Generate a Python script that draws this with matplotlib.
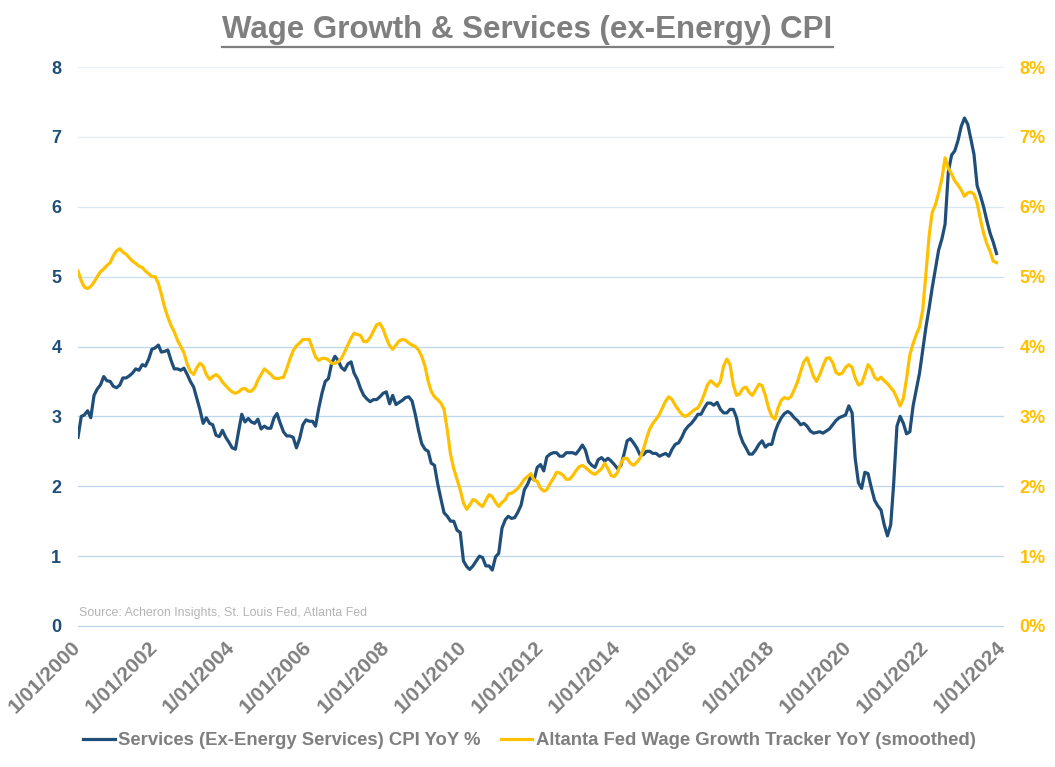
import matplotlib
matplotlib.use("Agg")
import matplotlib.pyplot as plt
import matplotlib.transforms as mtransforms
import numpy as np
import pandas as pd
from matplotlib.lines import Line2D

plt.rcParams["font.family"] = ["Liberation Sans", "DejaVu Sans"]

# monthly observations, Jan 2000 .. Nov 2023
months = pd.date_range("2000-01-01", periods=287, freq="MS")

services_cpi = [
    2.70, 3.00, 3.02, 3.08, 2.98, 3.30, 3.39, 3.45, 3.57, 3.51, 3.50, 3.43,  # 2000
    3.41, 3.45, 3.55, 3.55, 3.58, 3.62, 3.68, 3.66, 3.74, 3.72, 3.82, 3.96,  # 2001
    3.98, 4.02, 3.92, 3.93, 3.95, 3.80, 3.68, 3.68, 3.66, 3.69, 3.60, 3.50,  # 2002
    3.42, 3.25, 3.10, 2.90, 2.98, 2.90, 2.88, 2.73, 2.71, 2.80, 2.70, 2.63,  # 2003
    2.55, 2.53, 2.78, 3.03, 2.92, 2.97, 2.92, 2.90, 2.96, 2.82, 2.86, 2.83,  # 2004
    2.83, 2.98, 3.04, 2.90, 2.78, 2.72, 2.72, 2.70, 2.55, 2.68, 2.88, 2.95,  # 2005
    2.93, 2.93, 2.86, 3.12, 3.33, 3.50, 3.54, 3.76, 3.86, 3.80, 3.70, 3.66,  # 2006
    3.75, 3.78, 3.62, 3.53, 3.40, 3.30, 3.25, 3.21, 3.24, 3.24, 3.28, 3.33,  # 2007
    3.35, 3.18, 3.30, 3.17, 3.20, 3.23, 3.27, 3.28, 3.22, 3.03, 2.80, 2.61,  # 2008
    2.53, 2.50, 2.33, 2.30, 2.04, 1.82, 1.62, 1.57, 1.50, 1.50, 1.37, 1.34,  # 2009
    0.93, 0.85, 0.81, 0.86, 0.93, 1.00, 0.98, 0.86, 0.86, 0.80, 0.99, 1.04,  # 2010
    1.40, 1.52, 1.57, 1.54, 1.55, 1.63, 1.73, 1.95, 2.03, 2.14, 2.09, 2.27,  # 2011
    2.31, 2.22, 2.42, 2.46, 2.48, 2.48, 2.43, 2.43, 2.48, 2.48, 2.48, 2.46,  # 2012
    2.52, 2.59, 2.52, 2.35, 2.30, 2.27, 2.38, 2.41, 2.36, 2.40, 2.36, 2.31,  # 2013
    2.25, 2.30, 2.45, 2.65, 2.68, 2.62, 2.55, 2.45, 2.45, 2.50, 2.50, 2.47,  # 2014
    2.47, 2.43, 2.45, 2.47, 2.43, 2.53, 2.60, 2.62, 2.70, 2.80, 2.86, 2.90,  # 2015
    2.96, 3.03, 3.03, 3.12, 3.19, 3.19, 3.16, 3.20, 3.10, 3.05, 3.05, 3.10,  # 2016
    3.10, 2.98, 2.76, 2.63, 2.55, 2.46, 2.46, 2.52, 2.60, 2.65, 2.56, 2.60,  # 2017
    2.60, 2.78, 2.89, 2.98, 3.04, 3.07, 3.04, 2.98, 2.94, 2.88, 2.90, 2.86,  # 2018
    2.79, 2.76, 2.77, 2.78, 2.76, 2.79, 2.82, 2.88, 2.94, 2.98, 3.00, 3.02,  # 2019
    3.15, 3.05, 2.40, 2.05, 1.97, 2.20, 2.18, 1.98, 1.80, 1.72, 1.66, 1.45,  # 2020
    1.29, 1.45, 2.04, 2.86, 3.00, 2.90, 2.75, 2.78, 3.15, 3.38, 3.62, 3.95,  # 2021
    4.28, 4.56, 4.84, 5.11, 5.38, 5.54, 5.75, 6.50, 6.74, 6.80, 6.95, 7.15,  # 2022
    7.27, 7.18, 6.98, 6.75, 6.30, 6.16, 6.00, 5.80, 5.62, 5.49, 5.33,        # 2023
]

wage_tracker = [
    5.08, 4.94, 4.85, 4.83, 4.86, 4.92, 5.00, 5.07, 5.11, 5.16, 5.20, 5.30,  # 2000
    5.37, 5.40, 5.35, 5.32, 5.27, 5.22, 5.19, 5.15, 5.13, 5.08, 5.04, 5.00,  # 2001
    5.00, 4.90, 4.75, 4.56, 4.42, 4.30, 4.21, 4.09, 4.00, 3.91, 3.75, 3.64,  # 2002
    3.60, 3.70, 3.76, 3.72, 3.60, 3.53, 3.57, 3.60, 3.56, 3.49, 3.44, 3.39,  # 2003
    3.35, 3.33, 3.35, 3.39, 3.40, 3.36, 3.36, 3.41, 3.52, 3.60, 3.68, 3.64,  # 2004
    3.60, 3.55, 3.54, 3.55, 3.56, 3.68, 3.82, 3.94, 4.01, 4.05, 4.10, 4.10,  # 2005
    4.10, 3.97, 3.85, 3.80, 3.83, 3.83, 3.81, 3.76, 3.76, 3.78, 3.83, 3.92,  # 2006
    4.02, 4.12, 4.19, 4.17, 4.16, 4.07, 4.07, 4.13, 4.22, 4.31, 4.33, 4.25,  # 2007
    4.12, 4.01, 3.96, 4.02, 4.08, 4.10, 4.09, 4.05, 4.02, 4.00, 3.95, 3.86,  # 2008
    3.72, 3.50, 3.36, 3.28, 3.24, 3.19, 3.10, 2.80, 2.45, 2.25, 2.10, 1.95,  # 2009
    1.76, 1.67, 1.73, 1.81, 1.79, 1.74, 1.71, 1.80, 1.88, 1.85, 1.77, 1.71,  # 2010
    1.77, 1.81, 1.89, 1.90, 1.93, 1.97, 2.03, 2.10, 2.14, 2.18, 2.09, 2.07,  # 2011
    1.97, 1.93, 1.95, 2.04, 2.11, 2.20, 2.19, 2.16, 2.10, 2.10, 2.15, 2.22,  # 2012
    2.28, 2.30, 2.27, 2.23, 2.19, 2.17, 2.21, 2.25, 2.33, 2.25, 2.15, 2.14,  # 2013
    2.20, 2.33, 2.40, 2.40, 2.33, 2.30, 2.34, 2.40, 2.52, 2.68, 2.82, 2.90,  # 2014
    2.96, 3.03, 3.12, 3.22, 3.28, 3.24, 3.16, 3.09, 3.03, 3.00, 3.02, 3.06,  # 2015
    3.10, 3.12, 3.20, 3.32, 3.45, 3.51, 3.47, 3.43, 3.50, 3.72, 3.82, 3.74,  # 2016
    3.45, 3.30, 3.32, 3.40, 3.42, 3.34, 3.30, 3.38, 3.46, 3.44, 3.30, 3.12,  # 2017
    3.00, 2.96, 3.12, 3.23, 3.27, 3.25, 3.28, 3.38, 3.49, 3.64, 3.78, 3.84,  # 2018
    3.71, 3.57, 3.50, 3.60, 3.72, 3.83, 3.84, 3.77, 3.63, 3.60, 3.62, 3.70,  # 2019
    3.74, 3.70, 3.55, 3.45, 3.47, 3.60, 3.74, 3.68, 3.56, 3.52, 3.56, 3.51,  # 2020
    3.47, 3.41, 3.36, 3.26, 3.15, 3.26, 3.54, 3.88, 4.04, 4.17, 4.28, 4.52,  # 2021
    5.05, 5.60, 5.92, 6.03, 6.20, 6.40, 6.70, 6.55, 6.47, 6.37, 6.31, 6.24,  # 2022
    6.15, 6.20, 6.21, 6.18, 6.05, 5.82, 5.62, 5.47, 5.36, 5.22, 5.20,        # 2023
]

tick_years = list(range(2000, 2025, 2))
tick_labels = [f"1/01/{y}" for y in tick_years]
left_ticks = list(range(0, 9))
right_labels = [f"{v}%" for v in left_ticks]

title = "Wage Growth & Services (ex-Energy) CPI"
source = "Source: Acheron Insights, St. Louis Fed, Atlanta Fed"
cpi_label = "Services (Ex-Energy Services) CPI YoY %"
wage_label = "Altanta Fed Wage Growth Tracker YoY (smoothed)"

BLUE = "#1f4e79"
GOLD = "#ffc000"
GREY = "#7f7f7f"

fig = plt.figure(figsize=(10.55, 7.67), dpi=100)
ax = fig.add_axes([78 / 1055, 1 - 626 / 767, 925 / 1055, 559 / 767])
ax2 = ax.twinx()

# gridlines fade slightly towards the top
grid_colors = ["#bdd7ee"] * 5 + ["#c9ddf1", "#d9e6f4", "#e4ebf5", "#edf0f6"]
for v, c in zip(left_ticks, grid_colors):
    ax.axhline(v, color=c, lw=0.9, zorder=0, clip_on=False)

ax.plot(months, services_cpi, color=BLUE, lw=2.3, solid_joinstyle="round")
ax2.plot(months, wage_tracker, color=GOLD, lw=2.3, solid_joinstyle="round")

xmin, xmax = pd.Timestamp("2000-01-01"), pd.Timestamp("2024-01-01")
for a in (ax, ax2):
    a.set_xlim(xmin, xmax)
    a.set_ylim(0, 8)
    for s in a.spines.values():
        s.set_visible(False)
    a.tick_params(length=0)

ax.set_yticks(left_ticks)
ax.set_yticklabels([str(v) for v in left_ticks], color=BLUE, fontsize=13, fontweight="bold")
ax.tick_params(axis="y", pad=12)
ax2.set_yticks(left_ticks)
ax2.set_yticklabels(right_labels, color=GOLD, fontsize=13, fontweight="bold")
ax2.tick_params(axis="y", pad=12)

ax.set_xticks([pd.Timestamp(f"{y}-01-01") for y in tick_years])
ax.set_xticklabels(tick_labels, rotation=45, ha="right", va="top",
                   rotation_mode="anchor", color=GREY, fontsize=15, fontweight="bold")
ax.tick_params(axis="x", pad=8)
shift = mtransforms.ScaledTranslation(-5 / 72, 0, fig.dpi_scale_trans)
for lbl in ax.get_xticklabels():
    lbl.set_transform(lbl.get_transform() + shift)

ax.text(0.001, 0.012, source, transform=ax.transAxes, fontsize=8.9,
        color="#b4b4b4", ha="left", va="bottom")

t = fig.text(0.5, 1 - 38 / 767, title, ha="center", va="baseline",
             fontsize=22.5, fontweight="bold", color=GREY)

handles = [Line2D([], [], color=BLUE, lw=2.3), Line2D([], [], color=GOLD, lw=2.3)]
fig.legend(handles, [cpi_label, wage_label], loc="center", bbox_to_anchor=(0.502, 0.034),
           ncol=2, frameon=False, handlelength=1.7, handletextpad=0.2,
           columnspacing=1.1, prop={"size": 13.3, "weight": "bold"}, labelcolor=GREY)

# underline the title
fig.canvas.draw()
bb = t.get_window_extent()
uy = (bb.y0 - 2) / fig.bbox.height
fig.add_artist(Line2D([bb.x0 / fig.bbox.width, bb.x1 / fig.bbox.width], [uy, uy],
                      transform=fig.transFigure, color=GREY, lw=1.6))

fig.savefig("out.png", dpi=100)
